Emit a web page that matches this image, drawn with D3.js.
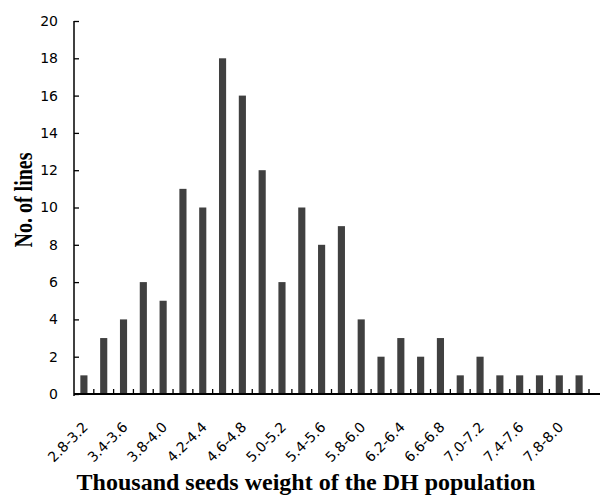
<!DOCTYPE html>
<html>
<head>
<meta charset="utf-8">
<script src="https://cdn.jsdelivr.net/npm/d3@7"></script>
<style>
  body { margin: 0; background: #fff; }
  svg { display: block; }
</style>
</head>
<body>
<div id="chart"></div>
<script>
// bins of thousand seeds weight (g)
const categories = [
  "2.8-3.2", "3.2-3.4", "3.4-3.6", "3.6-3.8", "3.8-4.0", "4.0-4.2", "4.2-4.4",
  "4.4-4.6", "4.6-4.8", "4.8-5.0", "5.0-5.2", "5.2-5.4", "5.4-5.6", "5.6-5.8",
  "5.8-6.0", "6.0-6.2", "6.2-6.4", "6.4-6.6", "6.6-6.8", "6.8-7.0", "7.0-7.2",
  "7.2-7.4", "7.4-7.6", "7.6-7.8", "7.8-8.0", "8.0-8.2"
];
const counts = [1, 3, 4, 6, 5, 11, 10, 18, 16, 12, 6, 10, 8, 9, 4, 2, 3, 2, 3, 1, 2, 1, 1, 1, 1, 1];
const yTicks = [0, 2, 4, 6, 8, 10, 12, 14, 16, 18, 20];

const width = 600, height = 495;
const margin = { top: 21, left: 74, bottom: 101, right: 11 };
const sans = "'DejaVu Sans', Verdana, sans-serif";
const serif = "'Liberation Serif', 'Times New Roman', serif";

const svg = d3.select("#chart")
  .append("svg")
  .attr("width", width)
  .attr("height", height);

const x = d3.scaleBand()
  .domain(categories)
  .range([margin.left, width - margin.right])
  .paddingInner(0.64)
  .paddingOuter(0.32);

const y = d3.scaleLinear()
  .domain([0, 20])
  .range([height - margin.bottom, margin.top]);

const y0 = y(0);

// bars
svg.selectAll("rect.bar")
  .data(counts)
  .enter()
  .append("rect")
  .attr("class", "bar")
  .attr("x", (d, i) => x(categories[i]))
  .attr("y", d => y(d))
  .attr("width", x.bandwidth())
  .attr("height", d => y0 - y(d))
  .attr("fill", "#404040");

// y axis, ticks pointing inward
const yAxis = svg.append("g")
  .attr("transform", "translate(" + margin.left + ",0)")
  .call(d3.axisRight(y).tickValues(yTicks).tickSize(5).tickPadding(-21));
yAxis.select(".domain").attr("d", "M0," + y(20) + "V" + (y0 + 2));
yAxis.selectAll(".tick line").attr("stroke", "#000").attr("stroke-width", 1.3);
yAxis.selectAll(".tick text")
  .attr("text-anchor", "end")
  .style("font-family", sans)
  .style("font-size", "14px")
  .attr("fill", "#000");
yAxis.select(".domain").attr("stroke", "#000").attr("stroke-width", 1.5);

// x axis line + boundary ticks
const step = x.step();
const boundaries = d3.range(1, categories.length + 1).map(i => x(categories[0]) - x.paddingOuter() * step + i * step);
svg.append("line")
  .attr("x1", margin.left)
  .attr("x2", width)
  .attr("y1", y0)
  .attr("y2", y0)
  .attr("stroke", "#000")
  .attr("stroke-width", 2);
svg.selectAll("line.xtick")
  .data(boundaries)
  .enter()
  .append("line")
  .attr("class", "xtick")
  .attr("x1", d => d)
  .attr("x2", d => d)
  .attr("y1", y0)
  .attr("y2", y0 - 5)
  .attr("stroke", "#000")
  .attr("stroke-width", 1.3);

// x labels every second bin
svg.selectAll("text.xlab")
  .data(categories.filter((c, i) => i % 2 === 0))
  .enter()
  .append("text")
  .attr("class", "xlab")
  .attr("transform", d => "translate(" + (x(d) + x.bandwidth() / 2 + 5) + "," + (y0 + 34) + ") rotate(-45)")
  .attr("text-anchor", "end")
  .style("font-family", sans)
  .style("font-size", "14px")
  .text(d => d);

// axis titles
svg.append("text")
  .attr("x", 306)
  .attr("y", 490)
  .attr("text-anchor", "middle")
  .style("font-family", serif)
  .style("font-weight", "bold")
  .style("font-size", "24px")
  .text("Thousand seeds weight of the DH population");

svg.append("text")
  .attr("transform", "translate(32,200) rotate(-90) scale(1,1.25)")
  .attr("text-anchor", "middle")
  .style("font-family", serif)
  .style("font-weight", "bold")
  .style("font-size", "20px")
  .text("No. of lines");
</script>
</body>
</html>
